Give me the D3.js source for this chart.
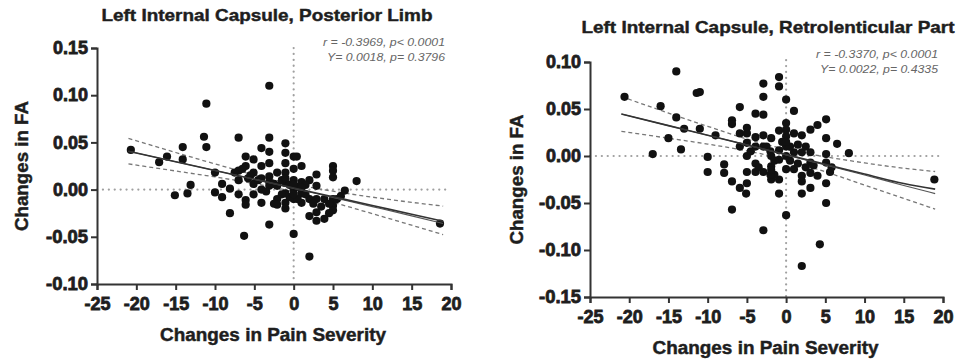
<!DOCTYPE html>
<html>
<head>
<meta charset="utf-8">
<script src="https://cdn.jsdelivr.net/npm/d3@7"></script>
<style>
  body { margin: 0; background: #fff; }
  svg text { font-family: "Liberation Sans", Arial, sans-serif; }
</style>
</head>
<body>
<svg id="chart" width="958" height="364"></svg>
<script>
// ---- data ----
const xTicks = [-25, -20, -15, -10, -5, 0, 5, 10, 15, 20];
const plicYTicks = [0.15, 0.10, 0.05, 0.00, -0.05, -0.10];
const rlicYTicks = [0.10, 0.05, 0.00, -0.05, -0.10, -0.15];

const titles = ["Left Internal Capsule, Posterior Limb", "Left Internal Capsule, Retrolenticular Part"];
const statsPlic = ["r = -0.3969, p< 0.0001", "Y= 0.0018,  p= 0.3796"];
const statsRlic = ["r = -0.3370, p< 0.0001", "Y= 0.0022,  p= 0.4335"];

// posterior limb: [change in pain, change in FA]
const plicPoints = [
  [-20.7,0.042],[-17.1,0.029],[-16.1,0.035],[-15.1,-0.006],[-14.1,0.045],[-14.1,0.032],[-13.5,-0.004],
  [-13.1,0.005],[-11.4,0.056],[-11.1,0.091],[-11.1,0.045],[-10.0,0.018],[-10.0,-0.003],[-9.1,0.006],
  [-9.1,-0.008],[-8.1,0.001],[-8.1,-0.025],[-7.0,0.055],[-7.0,0.020],[-7.0,0.010],[-7.0,-0.005],
  [-6.1,0.035],[-6.1,0.025],[-6.1,-0.011],[-6.1,-0.016],[-6.3,-0.049],[-5.1,0.032],[-5.1,0.018],
  [-5.1,0.006],[-5.1,-0.005],[-4.1,0.044],[-4.1,0.025],[-4.1,0.012],[-4.1,0.000],[-4.1,-0.014],
  [-3.1,0.110],[-3.1,0.055],[-3.1,0.040],[-3.1,0.028],[-3.1,0.014],[-3.1,0.004],[-3.1,-0.037],
  [-2.1,0.018],[-2.1,0.004],[-2.1,-0.010],[-1.05,0.049],[-1.05,0.039],[-1.05,0.028],[-1.05,0.018],
  [-1.05,0.007],[-1.05,-0.004],[-1.05,-0.014],[-1.05,-0.020],[0,0.035],[0,0.022],[0,0.010],[0,0.000],
  [0,-0.010],[0,-0.047],[0.4,0.035],[1.0,0.025],[1.0,0.008],[1.0,-0.004],[1.0,-0.014],[2.0,0.010],
  [2.0,-0.010],[2.0,-0.028],[2.0,-0.071],[2.9,0.016],[2.9,0.004],[2.9,-0.010],[2.9,-0.024],[2.9,-0.033],
  [3.9,-0.010],[3.9,-0.031],[5.0,0.025],[5.0,0.020],[5.0,0.013],[5.0,-0.010],[5.0,-0.017],[5.0,-0.022],
  [5.5,-0.010],[6.0,-0.007],[6.5,-0.001],[8.0,0.009],[18.6,-0.036],
  [-5.5,0.015],[-4.5,0.010],[-3.5,-0.002],[-2.5,0.006],[-2.5,-0.015],[-1.5,0.010],[-1.5,-0.005],
  [-0.5,0.005],[-0.5,-0.008],[0.5,0.003],[0.5,-0.010],[1.5,0.005],[1.5,-0.005],[2.5,-0.015],
  [3.5,-0.018],[4.5,-0.015],[4.5,-0.025],[-6.5,0.022],[-5.8,0.012],[-7.5,0.018],[-2.1,-0.016],
  [-1.05,0.012],[0,0.005],[0,-0.005],[1.0,0.002],[-3.1,0.008]
];

// retrolenticular part
const rlicPoints = [
  [-20.6,0.063],[-17.0,0.002],[-16.0,0.053],[-15.0,0.019],[-14.0,0.090],[-14.0,0.041],[-13.4,0.007],
  [-13.0,0.029],[-11.4,0.067],[-11.0,0.068],[-11.0,0.029],[-10.0,-0.001],[-10.0,-0.017],[-9.0,0.022],
  [-7.9,-0.009],[-7.9,-0.018],[-6.9,0.038],[-6.9,0.034],[-6.9,-0.057],[-6.9,-0.027],[-5.9,0.024],
  [-5.9,0.010],[-5.9,-0.034],[-5.9,0.052],[-5.0,0.030],[-5.0,0.024],[-5.0,0.014],[-5.0,0.000],
  [-5.0,-0.017],[-5.0,-0.029],[-5.1,-0.040],[-3.9,0.045],[-3.9,0.020],[-3.9,0.010],[-3.9,-0.008],
  [-3.9,-0.017],[-2.9,0.077],[-2.9,0.063],[-2.9,0.044],[-2.9,0.022],[-2.9,0.010],[-2.9,-0.017],
  [-2.9,-0.079],[-1.9,0.019],[-1.9,0.000],[-1.9,-0.011],[-1.9,-0.025],[-0.9,0.084],[-0.9,0.074],
  [-0.9,0.027],[-0.9,0.006],[-0.9,-0.004],[-0.9,-0.025],[-0.9,-0.040],[0,0.060],[0,0.035],[0,0.021],
  [0,0.010],[0,0.000],[0,-0.014],[0,-0.063],[1.0,0.048],[1.0,0.024],[1.0,0.004],[1.0,-0.014],
  [2.0,0.022],[2.0,0.004],[2.0,-0.021],[2.0,-0.027],[2.0,-0.040],[2.0,-0.117],[3.1,0.028],[3.1,0.004],
  [3.1,-0.007],[3.1,-0.018],[3.1,-0.034],[4.0,0.033],[4.0,-0.021],[4.3,-0.094],[5.1,0.039],[5.1,0.019],
  [5.1,0.002],[5.1,-0.007],[5.1,-0.029],[5.1,-0.050],[5.6,-0.017],[5.8,-0.012],[6.5,0.013],[8.0,0.003],
  [18.9,-0.025],
  [-1.5,-0.020],[-1.5,-0.005],[-2.5,0.010],[-0.5,0.015],[0.5,0.010],[0.5,-0.005],[1.5,0.012],
  [1.5,-0.008],[2.5,0.010],[2.5,-0.012],[3.5,-0.010],[-4.5,0.005],[-3.5,-0.012],[-2.0,0.005],
  [-2.0,-0.020],[-1.9,-0.015],[0,0.028],[0,0.015]
];

// fitted lines and confidence bands, sampled at bandX
const bandX = [-21, -15, -10, -5, -1.5, 0, 5, 10, 15, 19];
const plicFit   = [0.0407, 0.0295, 0.0203, 0.0110, 0.0045, 0.0017, -0.0076, -0.0169, -0.0261, -0.0336];
const plicFit2  = [0.0407, 0.0295, 0.0203, 0.0110, 0.0043, 0.0013, -0.0083, -0.0180, -0.0278, -0.0360];
const plicUpper = [0.0542, 0.0393, 0.0272, 0.0156, 0.0085, 0.0058, -0.0017, -0.0080, -0.0135, -0.0175];
const plicLower = [0.0272, 0.0197, 0.0134, 0.0064, 0.0005, -0.0024, -0.0135, -0.0255, -0.0377, -0.0477];
const rlicFit   = [0.0447, 0.0323, 0.0221, 0.0118, 0.0046, 0.0015, -0.0088, -0.0191, -0.0293, -0.0352];
const rlicFit2  = [0.0447, 0.0323, 0.0221, 0.0118, 0.0044, 0.0011, -0.0096, -0.0203, -0.0313, -0.0400];
const rlicUpper = [0.0632, 0.0457, 0.0316, 0.0181, 0.0101, 0.0071, -0.0008, -0.0073, -0.0130, -0.0165];
const rlicLower = [0.0262, 0.0189, 0.0127, 0.0055, -0.0009, -0.0041, -0.0168, -0.0309, -0.0452, -0.0565];

// -----------------------------------------------------------------
const svg = d3.select("#chart");

const panels = [
  { title: titles[0], titleX: 267, titleY: 21, titleLen: 331,
    stats: statsPlic, statsX: 445, statsY: 46,
    yTicks: plicYTicks, yDomain: [-0.10, 0.15],
    x0: 97, x1: 451, yTop: 48, yBot: 284,
    points: plicPoints, fit: plicFit, fit2: plicFit2, upper: plicUpper, lower: plicLower,
    vTop: 0.15, hEnd: 19.5, yLabelX: 28, xLabelY: 341 },
  { title: titles[1], titleX: 768, titleY: 33, titleLen: 373,
    stats: statsRlic, statsX: 938, statsY: 58,
    yTicks: rlicYTicks, yDomain: [-0.15, 0.10],
    x0: 590, x1: 943, yTop: 62, yBot: 297,
    points: rlicPoints, fit: rlicFit, fit2: rlicFit2, upper: rlicUpper, lower: rlicLower,
    vTop: 0.102, hEnd: 19.5, yLabelX: 523, xLabelY: 354 }
];

panels.forEach(p => drawPanel(p));

// heavy bold text, a bit darker than plain bold like the scanned figure
function heavy(sel, size, sw) {
  return sel
    .style("font-size", size + "px")
    .style("font-weight", "bold")
    .style("fill", "#1e1e1e")
    .style("stroke", "#1e1e1e")
    .style("stroke-width", (sw || 0.45) + "px");
}

function drawPanel(p) {
  const x = d3.scaleLinear().domain([-25, 20]).range([p.x0, p.x1]);
  const y = d3.scaleLinear().domain(p.yDomain).range([p.yBot, p.yTop]);
  const g = svg.append("g");

  // dotted zero lines
  g.append("line")
    .attr("x1", x(-25)).attr("x2", x(p.hEnd))
    .attr("y1", y(0)).attr("y2", y(0))
    .attr("stroke", "#a0a0a0").attr("stroke-width", 2.2)
    .attr("stroke-dasharray", "0.1,5.8").attr("stroke-linecap", "round");
  g.append("line")
    .attr("x1", x(0)).attr("x2", x(0))
    .attr("y1", y(p.vTop)).attr("y2", y(p.yDomain[0]))
    .attr("stroke", "#a0a0a0").attr("stroke-width", 2.2)
    .attr("stroke-dasharray", "0.1,5.8").attr("stroke-linecap", "round");

  // confidence band
  const line = d3.line().x(d => x(d[0])).y(d => y(d[1])).curve(d3.curveMonotoneX);
  [p.upper, p.lower].forEach(arr => {
    g.append("path")
      .attr("d", line(bandX.map((v, i) => [v, arr[i]])))
      .attr("fill", "none").attr("stroke", "#777")
      .attr("stroke-width", 1.3).attr("stroke-dasharray", "4,3");
  });

  // points
  g.append("g").selectAll("circle")
    .data(p.points)
    .enter().append("circle")
    .attr("cx", d => x(d[0]))
    .attr("cy", d => y(d[1]))
    .attr("r", 4.1)
    .attr("fill", "#111");

  // fit lines
  [p.fit2, p.fit].forEach((arr, i) => {
    g.append("path")
      .attr("d", line(bandX.map((v, k) => [v, arr[k]])))
      .attr("fill", "none").attr("stroke", i ? "#333" : "#555")
      .attr("stroke-width", i ? 1.6 : 1.1);
  });

  // axes
  const xAxis = d3.axisBottom(x).tickValues(xTicks).tickSize(6);
  const yAxis = d3.axisLeft(y).tickValues(p.yTicks).tickSize(6);

  const xg = g.append("g")
    .attr("transform", "translate(0," + p.yBot + ")")
    .call(xAxis);
  const yg = g.append("g")
    .attr("transform", "translate(" + p.x0 + ",0)")
    .call(yAxis);

  [xg, yg].forEach(a => {
    a.attr("font-size", null).attr("font-family", null);
    a.select(".domain").attr("stroke", "#333").attr("stroke-width", 2);
    a.selectAll(".tick line").attr("stroke", "#333").attr("stroke-width", 2);
    heavy(a.selectAll(".tick text"), 18, 0.8);
  });
  xg.selectAll(".tick text").attr("y", 10).attr("dy", "0.9em")
    .text(d => d < 0 ? "-" + Math.abs(d) : d);
  yg.selectAll(".tick text").attr("x", -9)
    .attr("textLength", 35).attr("lengthAdjust", "spacingAndGlyphs")
    .text(d => (d < 0 ? "-" : "") + Math.abs(d).toFixed(2));
  yg.selectAll(".tick text").filter(d => d < 0).attr("textLength", 42);

  // title
  heavy(g.append("text"), 17)
    .attr("x", p.titleX)
    .attr("y", p.titleY)
    .attr("text-anchor", "middle")
    .attr("textLength", p.titleLen)
    .attr("lengthAdjust", "spacingAndGlyphs")
    .text(p.title);

  // axis labels
  heavy(g.append("text"), 18)
    .attr("x", (p.x0 + p.x1) / 2 - 1)
    .attr("y", p.xLabelY)
    .attr("text-anchor", "middle")
    .attr("textLength", 226)
    .attr("lengthAdjust", "spacingAndGlyphs")
    .text("Changes in Pain Severity");
  heavy(g.append("text"), 18)
    .attr("transform", "translate(" + p.yLabelX + "," + ((p.yTop + p.yBot) / 2) + ") rotate(-90)")
    .attr("text-anchor", "middle")
    .attr("textLength", 130)
    .attr("lengthAdjust", "spacingAndGlyphs")
    .text("Changes in FA");

  // stats
  p.stats.forEach((s, i) => {
    g.append("text")
      .attr("x", p.statsX)
      .attr("y", p.statsY + i * 15)
      .attr("text-anchor", "end")
      .attr("textLength", i ? 118 : 122)
      .attr("lengthAdjust", "spacingAndGlyphs")
      .style("font-size", "11.5px")
      .style("font-style", "italic")
      .style("fill", "#666")
      .text(s);
  });
}
</script>
</body>
</html>
